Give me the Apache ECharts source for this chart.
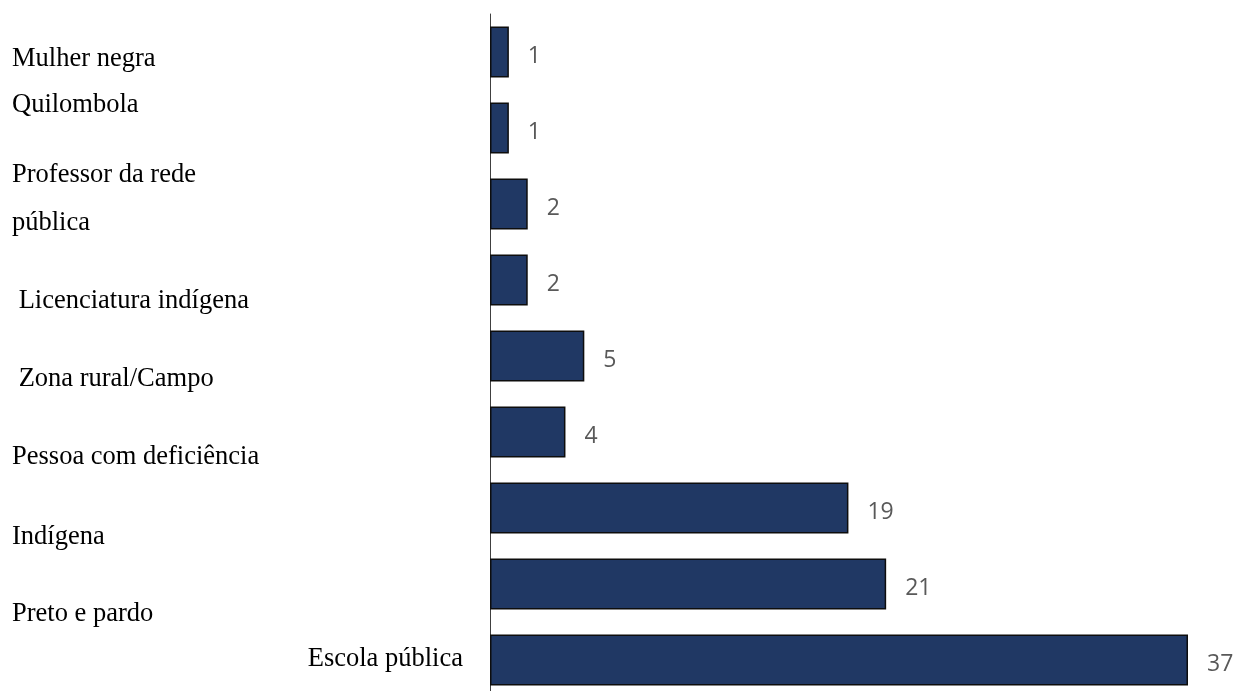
<!DOCTYPE html>
<html>
<head>
<meta charset="utf-8">
<script src="https://cdn.jsdelivr.net/npm/echarts@6/dist/echarts.min.js"></script>
<style>
  html, body { margin: 0; padding: 0; background: #fff; overflow: hidden; }
  #chart { width: 1237px; height: 700px; }
</style>
</head>
<body>
<div id="chart"></div>
<script>
// categories top to bottom
var categories = [
  'Mulher negra',
  'Quilombola',
  'Professor da rede\npública',
  ' Licenciatura indígena',
  ' Zona rural/Campo',
  'Pessoa com deficiência',
  'Indígena',
  'Preto e pardo',
  'Escola pública'
];
var values = [1, 1, 2, 2, 5, 4, 19, 21, 37];

// labels in the original sit a bit off their bars, shift them (px, + = down)
var labelShift = [7, -23, -5, 21, 23, 25, 29, 30, -1];

var chart = echarts.init(document.getElementById('chart'));

var rich = {};
labelShift.forEach(function (d, i) {
  var s = {
    fontFamily: 'Liberation Serif',
    fontSize: 26.5,
    color: '#000',
    lineHeight: 48,
    padding: d > 0 ? [2 * d, 0, 0, 0] : [0, 0, -2 * d, 0]
  };
  if (i === categories.length - 1) {
    s.width = 451;
    s.align = 'right';
  }
  rich['c' + i] = s;
});

var option = {
  animation: false,
  grid: { left: 490, top: 14, width: 698, height: 684 },
  xAxis: {
    type: 'value',
    min: 0,
    max: 37,
    show: false
  },
  yAxis: {
    type: 'category',
    inverse: true,
    data: categories,
    axisLine: { show: true, lineStyle: { color: '#404040', width: 1 } },
    axisTick: { show: false },
    axisLabel: {
      align: 'left',
      margin: 478,
      formatter: function (v, i) {
        return v.split('\n').map(function (t) { return '{c' + i + '|' + t + '}'; }).join('\n');
      },
      rich: rich
    }
  },
  series: [{
    type: 'bar',
    data: values,
    barCategoryGap: '33%',
    itemStyle: { color: '#203864', borderColor: '#0d0d0d', borderWidth: 1.5 },
    label: {
      show: true,
      position: 'right',
      distance: 19,
      offset: [0, 4],
      fontFamily: 'Open Sans',
      fontSize: 23,
      color: '#595959'
    }
  }]
};

chart.setOption(option);
</script>
</body>
</html>
